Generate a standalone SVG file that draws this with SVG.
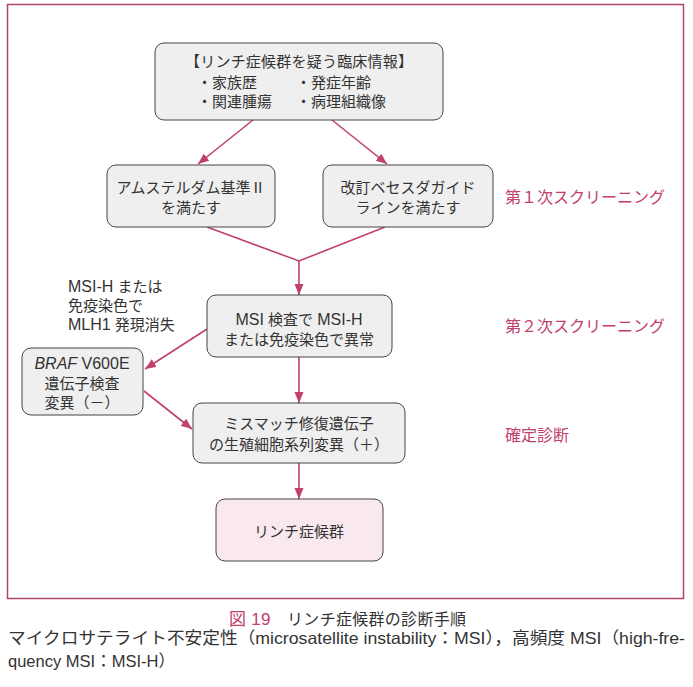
<svg xmlns="http://www.w3.org/2000/svg" width="693" height="687" viewBox="0 0 693 687">
<style>
text{font-family:"Liberation Sans","Noto Sans CJK JP",sans-serif;font-size:15px;fill:#333}
.c{text-anchor:middle}
.lat{font-size:16px}
.box{fill:#efefef;stroke:#444;stroke-width:1}
.fin{fill:#f9e9ee;stroke:#444;stroke-width:1}
.pk{fill:#c0406e;font-size:17px}
.lbl{font-size:16px;fill:#c0406e}
.cap{font-size:16.5px}
.cap1{font-size:16px}
.ln{stroke:#c0406e;stroke-width:1.6;fill:none}
</style>
<defs>
<marker id="ah" markerUnits="userSpaceOnUse" markerWidth="12" markerHeight="10" refX="11" refY="4.5" orient="auto">
<path d="M0,0 L11,4.5 L0,9 z" fill="#c0406e"/>
</marker>
</defs>
<rect x="7.5" y="4.5" width="676" height="594" fill="none" stroke="#b0466e" stroke-width="1.5"/>
<g id="connectors">
<path class="ln" d="M253,120 L198,164" marker-end="url(#ah)"/>
<path class="ln" d="M332,120 L387,164" marker-end="url(#ah)"/>
<path class="ln" d="M207,227 L299,261 L385,227"/>
<path class="ln" d="M299,261 L299,295" marker-end="url(#ah)"/>
<path class="ln" d="M207,329 L145,369" marker-end="url(#ah)"/>
<path class="ln" d="M144,391 L192,429" marker-end="url(#ah)"/>
<path class="ln" d="M299,357 L299,403" marker-end="url(#ah)"/>
<path class="ln" d="M299,463 L299,499" marker-end="url(#ah)"/>
</g>
<g id="n-top">
<rect class="box" x="155" y="43" width="288" height="77" rx="9"/>
<text class="c" x="299" y="67" textLength="228" lengthAdjust="spacing">【リンチ症候群を疑う臨床情報】</text>
<text x="197" y="88">・家族歴</text><text x="296" y="88">・発症年齢</text>
<text x="197" y="107">・関連腫瘍</text><text x="296" y="107">・病理組織像</text>
</g>
<g id="n-amsterdam">
<rect class="box" x="107" y="165" width="168" height="62" rx="9"/>
<text class="c" x="191" y="193">アムステルダム基準Ⅱ</text>
<text class="c" x="191" y="213">を満たす</text>
</g>
<g id="n-bethesda">
<rect class="box" x="323" y="165" width="170" height="62" rx="9"/>
<text class="c" x="408" y="193">改訂ベセスダガイド</text>
<text class="c" x="408" y="213">ラインを満たす</text>
</g>
<g id="n-msi">
<rect class="box" x="207" y="295" width="185" height="62" rx="9"/>
<text class="c" x="299" y="325"><tspan class="lat">MSI</tspan> 検査で <tspan class="lat">MSI-H</tspan></text>
<text class="c" x="299" y="345">または免疫染色で異常</text>
</g>
<g id="l-msi">
<text x="68" y="292"><tspan class="lat">MSI-H</tspan> または</text>
<text x="68" y="311">免疫染色で</text>
<text x="68" y="330"><tspan class="lat">MLH1</tspan> 発現消失</text>
</g>
<g id="n-braf">
<rect class="box" x="22" y="348" width="121" height="67" rx="9"/>
<text class="c lat" x="82" y="369"><tspan font-style="italic">BRAF</tspan> V600E</text>
<text class="c" x="82" y="389">遺伝子検査</text>
<text class="c" x="82" y="408">変異（－）</text>
</g>
<g id="n-mmr">
<rect class="box" x="193" y="403" width="212" height="60" rx="9"/>
<text class="c" x="299" y="429">ミスマッチ修復遺伝子</text>
<text class="c" x="299" y="450">の生殖細胞系列変異（＋）</text>
</g>
<g id="n-lynch">
<rect class="fin" x="216" y="499" width="167" height="62" rx="9"/>
<text class="c" x="299" y="537">リンチ症候群</text>
</g>
<g id="stages">
<text class="lbl" x="505" y="203">第１次スクリーニング</text>
<text class="lbl" x="505" y="332">第２次スクリーニング</text>
<text class="lbl" x="505" y="441">確定診断</text>
</g>
<g id="caption">
<text class="cap1" x="229" y="625" textLength="237" lengthAdjust="spacing"><tspan class="pk">図 19</tspan>　リンチ症候群の診断手順</text>
<text class="cap" x="8" y="644" textLength="677" lengthAdjust="spacingAndGlyphs">マイクロサテライト不安定性（microsatellite instability：MSI），高頻度 MSI（high-fre-</text>
<text class="cap" x="8" y="667" textLength="167" lengthAdjust="spacingAndGlyphs">quency MSI：MSI-H）</text>
</g>
</svg>
